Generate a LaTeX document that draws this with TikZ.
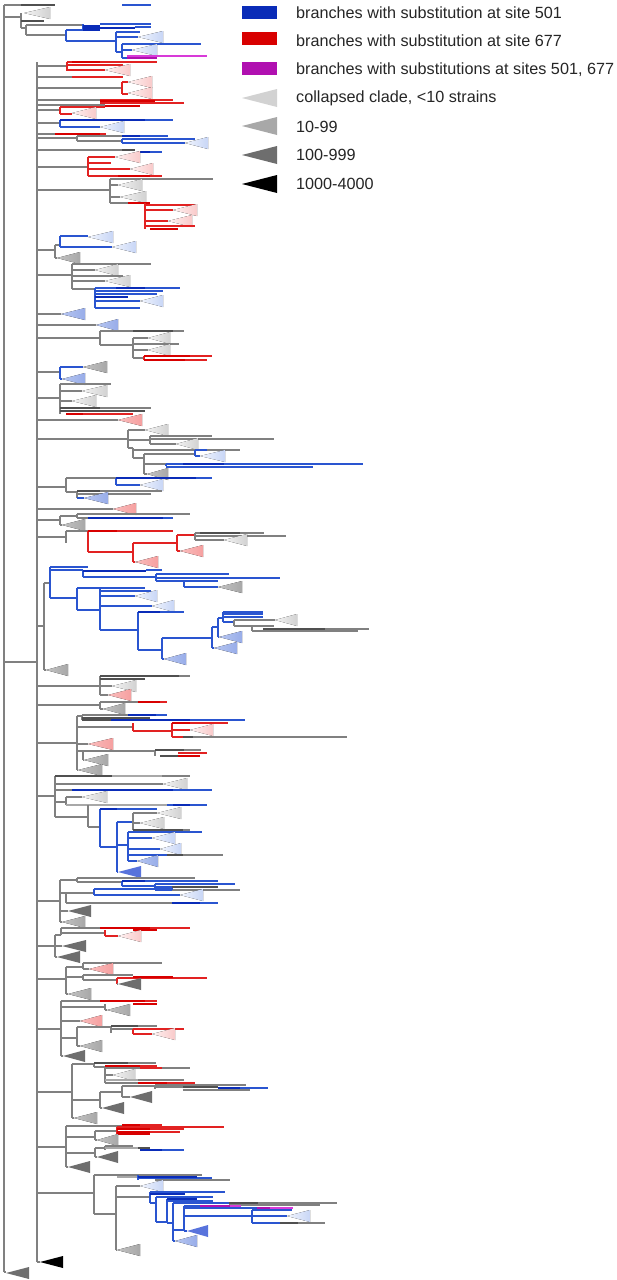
\documentclass[tikz,border=0pt]{standalone}
\usepackage{fontspec}
\setmainfont{Liberation Sans}
\definecolor{treegray}{HTML}{808080}
\definecolor{bundlegray}{HTML}{505050}
\definecolor{palegray}{HTML}{A8A8A8}
\definecolor{subblue}{HTML}{2A55D0}
\definecolor{subbluek}{HTML}{0A2CB8}
\definecolor{subred}{HTML}{E22222}
\definecolor{subredk}{HTML}{D80000}
\definecolor{submag}{HTML}{D83AD8}
\definecolor{submagk}{HTML}{B010B0}
\definecolor{triA}{HTML}{D2D2D2}
\definecolor{triB}{HTML}{A8A8A8}
\definecolor{triC}{HTML}{6E6E6E}
\definecolor{triBlueA}{HTML}{C8D6F6}
\definecolor{triBlueB}{HTML}{98ADE9}
\definecolor{triBlueC}{HTML}{5873DC}
\definecolor{triRedA}{HTML}{F9CACA}
\definecolor{triRedB}{HTML}{F6A0A0}
\newcommand{\hb}[4][gbr]{\draw[#1] (#3,#2) -- (#4,#2);}
\newcommand{\vb}[4][gbr]{\draw[#1] (#2,#3) -- (#2,#4);}
\newcommand{\clade}[4][cl0]{\fill[#1] (#2,#3) -- ++(#4,-6) -- ++(0,12) -- cycle;}
\begin{document}
\begin{tikzpicture}[x=1pt, y=-1pt,
  gbr/.style={draw=treegray, line width=1.1pt},
  gth/.style={draw=bundlegray, line width=2.6pt},
  lth/.style={draw=palegray, line width=2.6pt},
  bbr/.style={draw=subblue, line width=1.1pt},
  bth/.style={draw=subbluek, line width=2.6pt},
  rbr/.style={draw=subred, line width=1.1pt},
  rth/.style={draw=subredk, line width=2.6pt},
  mbr/.style={draw=submag, line width=1.1pt},
  mth/.style={draw=submagk, line width=2.6pt},
  cl0/.style={left color=triA!25!white, right color=triA},
  cl1/.style={left color=triB!70!white, right color=triB},
  cl2/.style={fill=triC}, cl3/.style={fill=black},
  cb0/.style={left color=triBlueA!25!white, right color=triBlueA},
  cb1/.style={left color=triBlueB!70!white, right color=triBlueB},
  cb2/.style={fill=triBlueC},
  cr0/.style={left color=triRedA!25!white, right color=triRedA},
  cr1/.style={left color=triRedB!70!white, right color=triRedB},
  legtext/.style={anchor=west, inner sep=0pt, text=black!85, font=\fontsize{16.2}{19}\selectfont}]
\useasboundingbox (0,0) rectangle (617,1280);
\fill[white] (0,0) rectangle (617,1280);

\fill[subbluek] (242,6) rectangle (277,19);
\fill[subredk] (242,32) rectangle (277,45);
\fill[submagk] (242,62) rectangle (277,75);
\fill[triA] (242,98) -- (277,89) -- (277,107) -- cycle;
\fill[triB] (242,126) -- (277,117) -- (277,135) -- cycle;
\fill[triC] (242,155) -- (277,146) -- (277,164) -- cycle;
\fill[black] (242,184) -- (277,175) -- (277,193) -- cycle;
\node[legtext] (leg501) at (296,13) {branches with substitution at site 501};
\node[legtext] (leg677) at (296,41) {branches with substitution at site 677};
\node[legtext] (legboth) at (296,70) {branches with substitutions at sites 501, 677};
\node[legtext] (legsmall) at (296,98) {collapsed clade, <10 strains};
\node[legtext] (legten) at (296,127) {10-99};
\node[legtext] (leghund) at (296,155) {100-999};
\node[legtext] (legthou) at (296,184) {1000-4000};

\vb{4}{5}{1272}
\hb{5}{4}{21} \hb[gth]{5}{21}{55} \hb[bbr]{5}{122}{151}
\hb{17}{4}{21} \vb{21}{13}{28}
\clade{24}{13}{26}
\hb[gth]{21}{21}{44}
\hb{28}{21}{26} \vb{26}{25}{35}
\hb{25}{26}{83} \vb[bbr]{83}{24}{30}
\hb[bth]{26}{83}{100} \hb[bth]{28}{83}{135} \hb[bth]{30}{83}{100}
\hb[bbr]{24}{100}{151} \hb[bbr]{27}{135}{151}
\hb{35}{26}{66} \vb[bbr]{66}{30}{41}
\hb[bbr]{30}{66}{83}
\hb[bbr]{41}{66}{116} \vb[bbr]{116}{32}{52}
\hb[bbr]{32}{116}{140} \hb[bbr]{37}{116}{138} \clade[cb0]{138}{37}{25}
\hb[bbr]{52}{116}{122} \vb[bbr]{122}{44}{58}
\hb[bbr]{44}{122}{201}
\hb[bbr]{50}{122}{132} \clade[cb0]{132}{50}{25}
\hb[bbr]{58}{122}{127} \hb[mbr]{56}{127}{207} \hb[mth]{58}{127}{157}

\hb{662}{4}{37}
\vb{37}{62}{1262}

\hb{66}{37}{67} \vb[rbr]{67}{62}{71}
\hb[rbr]{62}{67}{157} \hb[rth]{62}{72}{100}
\hb[rbr]{65}{67}{123}
\hb[rbr]{70}{67}{105} \clade[cr0]{105}{70}{25}
\hb{77}{37}{72} \hb[rbr]{77}{72}{123}

\hb{88}{37}{122} \vb[rbr]{122}{82}{94}
\hb[rbr]{82}{122}{128} \clade[cr0]{128}{82}{24}
\hb[rbr]{94}{122}{128} \clade[cr0]{128}{93}{24}

\hb{100}{37}{100} \hb[rbr]{100}{100}{173} \hb[rth]{101}{100}{155} \hb[rbr]{103}{100}{184}
\hb{105}{37}{105} \hb[rth]{106}{105}{140}
\hb{110}{37}{60} \vb[rbr]{60}{107}{114}
\hb[rbr]{107}{60}{105}
\hb[rbr]{114}{60}{72} \clade[cr0]{72}{113}{24}

\hb{123}{37}{60} \vb[bbr]{60}{120}{127}
\hb[bbr]{120}{60}{173} \hb[bth]{120}{60}{145}
\hb[bbr]{127}{60}{100} \clade[cb0]{100}{127}{24}

\hb{134}{37}{55} \hb[rth]{134}{55}{100} \hb[rbr]{134}{100}{106}
\hb{138}{37}{77} \vb{77}{136}{141}
\hb{136}{77}{122} \hb[bth]{136}{122}{140} \hb[bbr]{136}{140}{168}
\hb{141}{77}{122} \vb[bbr]{122}{139}{143}
\hb[bbr]{139}{122}{195}
\hb[bbr]{143}{122}{185} \clade[cb0]{185}{143}{23}

\hb{150}{37}{122} \hb[gth]{150}{122}{135} \hb[bth]{152}{138}{150} \hb[bbr]{152}{150}{162}

\hb{167}{37}{88} \vb[rbr]{88}{157}{176}
\hb[rbr]{157}{88}{115} \clade[cr0]{115}{157}{25}
\hb[rbr]{163}{88}{111}
\hb[rbr]{169}{88}{130} \clade[cr0]{130}{169}{23}
\hb[rbr]{176}{88}{162} \hb[rth]{176}{118}{150}

\hb{190}{37}{110} \vb{110}{179}{203}
\hb{179}{110}{213}
\hb{185}{110}{118} \clade{118}{185}{24}
\hb{197}{110}{120} \clade{120}{197}{26}
\hb{203}{110}{128} \hb[rth]{203}{128}{150}
\vb[rbr]{145}{203}{229}
\hb[rbr]{205}{145}{195}
\hb[rbr]{210}{145}{173} \clade[cr0]{173}{210}{24}
\hb[rbr]{221}{145}{168} \clade[cr0]{168}{221}{24}
\hb[rbr]{226}{145}{195}
\hb[rth]{229}{150}{178}

\hb{250}{37}{55} \vb{55}{245}{258}
\hb{245}{55}{60} \vb[bbr]{60}{236}{247}
\hb[bbr]{236}{60}{88} \clade[cb0]{88}{237}{25}
\hb[bbr]{247}{60}{112} \clade[cb0]{112}{247}{24}
\hb{258}{55}{57} \clade[cl1]{57}{258}{23}

\hb{275}{37}{72} \vb{72}{264}{289}
\hb{264}{72}{151}
\hb{270}{72}{95} \clade{95}{270}{23}
\hb{276}{72}{123}
\hb{281}{72}{105} \clade{105}{281}{25}
\hb{289}{72}{95} \vb[bbr]{95}{288}{308}
\hb[bbr]{288}{95}{180} \hb[bth]{288}{116}{145}
\hb[bbr]{291}{95}{163}
\hb[bbr]{294}{95}{157}
\hb[bth]{297}{95}{128}
\hb[bbr]{301}{95}{140} \clade[cb0]{140}{301}{23}
\hb[bbr]{308}{95}{140}

\hb{314}{37}{61} \clade[cb1]{61}{314}{24}
\hb{325}{37}{96} \clade[cb1]{96}{325}{22}

\hb{338}{37}{100} \vb{100}{331}{345}
\hb{331}{100}{184} \hb[gth]{331}{133}{173}
\hb{345}{100}{133} \vb{133}{338}{358}
\hb{338}{133}{148} \clade{148}{338}{22}
\hb{344}{133}{179}
\hb{350}{133}{148} \clade{148}{350}{22}
\hb{358}{133}{144} \vb[rbr]{144}{356}{360}
\hb[rbr]{356}{144}{212} \hb[rth]{356}{144}{190}
\hb[rbr]{360}{144}{207} \hb[rth]{360}{144}{185}

\hb{372}{37}{60} \vb[bbr]{60}{367}{379}
\hb[bbr]{367}{60}{83} \clade[cl1]{83}{367}{24}
\hb[bbr]{379}{60}{62} \clade[cb1]{62}{379}{23}

\hb{398}{37}{60} \vb{60}{384}{414}
\hb{384}{60}{111}
\hb{391}{60}{82} \clade{82}{391}{25}
\hb{401}{60}{72} \clade{72}{401}{24}
\hb[gth]{408}{60}{100} \hb{408}{100}{151}
\hb[gth]{411}{60}{145}
\hb[rth]{414}{66}{83} \hb[rbr]{414}{83}{133}

\hb{420}{37}{118} \clade[cr1]{118}{420}{24}

\hb{439}{37}{128} \vb{128}{430}{448}
\hb{430}{128}{145} \clade{145}{430}{23}
\hb{440}{128}{150} \vb{150}{436}{444}
\hb{436}{150}{212}
\hb{439}{150}{274}
\hb{444}{150}{176} \clade{176}{444}{22}
\hb{448}{128}{133} \vb{133}{448}{458}
\hb{450}{133}{240}
\hb{458}{133}{144} \vb{144}{454}{474}
\hb{454}{144}{195} \vb[bbr]{195}{450}{456}
\hb[bbr]{450}{195}{207}
\hb[bbr]{456}{195}{200} \clade[cb0]{200}{456}{25}
\hb{464}{144}{166} \vb[bbr]{166}{464}{466}
\hb[bbr]{464}{166}{363} \hb[bth]{464}{183}{224}
\hb[bbr]{467}{166}{313}
\hb{474}{144}{147} \clade[cl1]{147}{474}{21}

\hb{487}{37}{66} \vb{66}{478}{492}
\hb{478}{66}{116} \vb[bbr]{116}{478}{485}
\hb[bth]{478}{116}{196} \hb[bbr]{478}{196}{212}
\hb[bbr]{485}{116}{140} \clade[cb0]{140}{485}{23}
\hb{492}{66}{77} \vb{77}{491}{498}
\hb[gth]{491}{77}{100} \hb{491}{100}{162}
\hb{494}{77}{151}
\hb[bbr]{498}{77}{84} \clade[cb1]{84}{498}{24}

\hb{509}{37}{113} \clade[cr1]{113}{509}{23}

\hb{520}{37}{60} \vb{60}{516}{525}
\hb{516}{60}{77} \vb{77}{514}{518}
\hb{514}{77}{190}
\hb{518}{77}{88} \hb[bth]{518}{88}{163} \hb[bbr]{518}{163}{173}
\hb{525}{60}{62} \clade[cl1]{62}{525}{23}

\hb{537}{37}{66} \vb{66}{531}{543}
\hb{531}{66}{88} \vb[rbr]{88}{531}{552}
\hb[rth]{531}{88}{117} \hb[rbr]{531}{117}{173}
\hb[rbr]{552}{88}{133} \vb[rbr]{133}{543}{562}
\hb[rbr]{543}{133}{177} \vb[rbr]{177}{535}{551}
\hb[rbr]{535}{177}{195} \vb{195}{533}{540}
\hb{533}{195}{264} \hb[gth]{533}{200}{240}
\hb{536}{195}{286}
\hb{540}{195}{224} \clade{224}{540}{23}
\hb[rbr]{551}{177}{180} \clade[cr1]{180}{551}{23}
\hb[rbr]{562}{133}{135} \clade[cr1]{135}{562}{23}

\hb{626}{37}{44} \vb{44}{583}{670}
\hb{583}{44}{50} \vb[bbr]{50}{567}{598}
\hb[bbr]{567}{50}{88}
\hb[bbr]{570}{50}{83} \vb[bbr]{83}{570}{577}
\hb[bth]{571}{83}{146} \hb[bbr]{570}{146}{162}
\hb[bbr]{577}{83}{156} \vb[bbr]{156}{574}{581}
\hb[bbr]{574}{156}{229}
\hb[bbr]{578}{156}{280}
\hb[bbr]{581}{156}{184} \vb[bbr]{184}{581}{587}
\hb[bbr]{581}{184}{218}
\hb[bbr]{587}{184}{218} \clade[cl1]{218}{587}{24}
\hb[bbr]{598}{50}{77} \vb[bbr]{77}{588}{610}
\hb[bbr]{588}{77}{145} \vb[bbr]{100}{588}{630}
\hb[bbr]{591}{100}{151}
\hb[bbr]{596}{100}{135} \clade[cb0]{135}{596}{22}
\hb[bbr]{606}{100}{152} \clade[cb0]{152}{606}{22}
\hb[bbr]{610}{77}{100}
\hb[bbr]{630}{100}{138} \vb[bbr]{138}{612}{650}
\hb[bbr]{612}{138}{184} \hb[bth]{612}{138}{160}
\hb[bbr]{650}{138}{162} \vb[bbr]{162}{638}{659}
\hb[bbr]{638}{162}{212} \vb[bbr]{212}{627}{648}
\hb[bbr]{627}{212}{218} \vb[bbr]{218}{618}{637}
\hb[bbr]{618}{218}{223} \vb[bbr]{223}{612}{622}
\hb[bbr]{612}{223}{263}
\hb[bbr]{614}{223}{263}
\hb[bbr]{617}{223}{263}
\hb[bbr]{622}{223}{234} \vb{234}{620}{626}
\hb{620}{234}{275} \clade{275}{620}{22}
\hb{626}{234}{252} \vb{252}{626}{631}
\hb{626}{252}{274}
\hb[gth]{629}{263}{325} \hb{629}{325}{369}
\hb{631}{252}{358}
\hb[bbr]{637}{218}{219} \clade[cb1]{219}{637}{23}
\hb[bbr]{648}{212}{214} \clade[cb1]{214}{648}{23}
\hb[bbr]{659}{162}{164} \clade[cb1]{164}{659}{22}
\hb{670}{44}{46} \clade[cl1]{46}{670}{22}

\hb{686}{37}{100} \vb{100}{676}{695}
\hb[gth]{676}{100}{179} \hb{676}{179}{190}
\hb[gth]{679}{100}{145}
\hb{686}{100}{112} \clade{112}{686}{24}
\hb{695}{100}{108} \clade[cr1]{108}{695}{23}

\hb{705}{37}{100} \vb{100}{702}{709}
\hb{702}{100}{138} \hb[rbr]{702}{138}{167} \hb[rth]{702}{138}{160}
\hb{709}{100}{103} \clade[cl1]{103}{709}{22}

\hb{743}{37}{77} \vb{77}{716}{770}
\hb{716}{77}{82} \vb{82}{715}{720}
\hb{715}{82}{128} \hb[bth]{715}{128}{156} \hb[bbr]{715}{156}{167}
\hb[gth]{718}{82}{150}
\hb[gth]{720}{82}{111} \hb[bbr]{720}{111}{245} \hb[bth]{720}{111}{190}
\hb{727}{77}{133} \vb[rbr]{133}{723}{731}
\hb[rbr]{731}{133}{172} \vb[rbr]{172}{723}{737}
\hb[rbr]{723}{172}{228} \hb[rth]{723}{172}{190}
\hb[rbr]{730}{172}{190} \clade[cr0]{190}{730}{23}
\hb[rbr]{737}{172}{183} \hb[gth]{737}{183}{193} \hb{737}{193}{347}
\hb{744}{77}{88} \clade[cr1]{88}{744}{25}
\hb{751}{77}{83} \vb{83}{751}{760}
\hb{751}{83}{155} \vb{155}{750}{756}
\hb[gth]{750}{155}{184} \hb{750}{184}{201}
\hb[rbr]{753}{178}{207}
\hb[gth]{756}{160}{178} \hb[rth]{756}{178}{200}
\hb{760}{83}{84} \clade[cl1]{84}{760}{24}
\hb{770}{77}{78} \clade[cl1]{78}{770}{24}

\hb{796}{37}{55} \vb{55}{776}{817}
\hb{776}{55}{190} \hb[gth]{776}{55}{112} \hb[lth]{776}{112}{162}
\hb{784}{55}{163} \clade{163}{784}{24}
\hb{790}{55}{72} \hb[bbr]{790}{72}{212} \hb[bth]{790}{72}{173}
\hb{802}{55}{66} \vb{66}{797}{805}
\hb{797}{66}{82} \clade{82}{797}{25}
\hb[lth]{805}{66}{167} \hb[bbr]{805}{167}{207} \hb[bth]{805}{173}{190}
\hb{817}{55}{88} \vb{88}{805}{827}
\hb{827}{88}{100} \vb[bbr]{100}{809}{847}
\hb[bbr]{809}{100}{157} \hb[bth]{809}{100}{117}
\hb[bbr]{847}{100}{117} \vb[bbr]{117}{822}{872}
\hb[bbr]{822}{117}{133} \vb{133}{813}{830}
\hb{813}{133}{157} \clade{157}{813}{24}
\hb{823}{133}{140} \clade{140}{823}{24}
\hb[gth]{830}{133}{183} \hb{830}{183}{190}
\hb[bbr]{845}{117}{128} \vb[bbr]{128}{832}{861}
\hb[bbr]{832}{128}{202}
\hb[bbr]{838}{128}{152} \clade[cb0]{152}{838}{23}
\hb[bbr]{849}{128}{160} \clade[cb0]{160}{849}{21}
\hb[bbr]{855}{128}{167} \hb[gth]{855}{167}{183} \hb{855}{183}{223}
\hb[bbr]{861}{128}{137} \clade[cb1]{137}{861}{21}
\hb[bbr]{872}{117}{118} \clade[cb2]{118}{872}{23}

\hb{901}{37}{60} \vb{60}{880}{922}
\hb{880}{60}{77} \vb{77}{878}{882}
\hb{878}{77}{195}
\hb{882}{77}{122} \vb[bbr]{122}{881}{886}
\hb[bbr]{881}{122}{218} \hb[bth]{881}{122}{145}
\hb[bbr]{886}{122}{155} \vb[bbr]{155}{884}{890}
\hb[bbr]{884}{155}{235}
\hb[bbr]{887}{155}{172} \hb[gth]{887}{172}{218}
\hb[bbr]{890}{155}{172} \hb{890}{172}{240}
\hb{893}{60}{66} \vb{66}{893}{903}
\hb{893}{66}{94} \vb[bbr]{94}{889}{895}
\hb[bbr]{889}{94}{173}
\hb[bbr]{895}{94}{180} \clade[cb0]{180}{895}{23}
\hb{903}{66}{172} \hb[bbr]{903}{172}{218} \hb[bth]{903}{172}{200}
\hb{911}{60}{68} \clade[cl2]{68}{911}{23}
\hb{922}{60}{62} \clade[cl1]{62}{922}{23}

\hb{946}{37}{55} \vb{55}{935}{957}
\hb{935}{55}{61} \vb{61}{928}{935}
\hb{928}{61}{100} \hb[rbr]{928}{100}{190} \hb[rth]{928}{100}{150}
\hb{933}{61}{105} \vb[rbr]{105}{930}{936}
\hb[rth]{930}{133}{157}
\hb[rbr]{936}{105}{118} \clade[cr0]{118}{936}{23}
\hb{946}{55}{62} \clade[cl2]{62}{946}{24}
\hb{957}{55}{57} \clade[cl2]{57}{957}{23}

\hb{979}{37}{66} \vb{66}{967}{994}
\hb{967}{66}{83} \vb{83}{963}{969}
\hb{963}{83}{162}
\hb{969}{83}{89} \clade[cr1]{89}{969}{24}
\hb{977}{66}{83} \vb{83}{975}{980}
\hb{975}{83}{133}
\hb{980}{83}{117} \vb[rbr]{117}{978}{984}
\hb[rbr]{978}{117}{207} \hb[rth]{977}{133}{173}
\hb{984}{117}{118} \clade[cl2]{118}{984}{23}
\hb{994}{66}{68} \clade[cl1]{68}{994}{23}

\hb{1029}{37}{61} \vb{61}{1001}{1056}
\hb{1001}{61}{100} \hb[rbr]{1001}{100}{157} \hb[rth]{1001}{100}{145}
\hb[rth]{1004}{133}{157}
\hb{1007}{61}{105} \vb{105}{1004}{1010}
\hb{1010}{105}{107} \clade[cl1]{107}{1010}{23}
\hb{1021}{61}{80} \clade[cr1]{80}{1021}{22}
\hb{1038}{61}{77} \vb{77}{1027}{1046}
\hb{1027}{77}{111} \vb{111}{1026}{1033}
\hb[gth]{1026}{111}{138} \hb{1026}{138}{157}
\hb{1029}{111}{133} \hb[rbr]{1029}{133}{184} \vb[rbr]{133}{1029}{1034}
\hb[rbr]{1034}{133}{152} \clade[cr0]{152}{1034}{23}
\hb{1046}{77}{80} \clade[cl1]{80}{1046}{22}
\hb{1056}{61}{63} \clade[cl2]{63}{1056}{22}

\hb{1092}{37}{72} \vb{72}{1064}{1118}
\hb{1064}{72}{94} \vb{94}{1063}{1067}
\hb[gth]{1063}{94}{128} \hb{1063}{128}{156}
\hb{1067}{94}{105} \vb{105}{1066}{1083}
\hb{1068}{105}{190} \hb[rth]{1066}{105}{140} \hb[rbr]{1066}{140}{157} \hb[rbr]{1068}{140}{162}
\hb{1075}{105}{113} \clade{113}{1075}{22}
\hb{1080}{105}{184} \hb[lth]{1080}{105}{138}
\hb{1083}{105}{138} \hb[rbr]{1083}{138}{195} \hb[rth]{1083}{138}{167}
\hb{1100}{72}{100} \vb{100}{1092}{1108}
\hb{1092}{100}{122} \vb{122}{1086}{1097}
\hb{1086}{122}{155} \vb{155}{1085}{1089}
\hb{1085}{155}{246}
\hb{1087}{155}{183} \hb[gth]{1087}{183}{218} \hb[bbr]{1088}{218}{268} \hb[bth]{1088}{218}{240}
\hb{1090}{183}{250}
\hb{1097}{122}{130} \clade[cl2]{130}{1097}{22}
\hb{1108}{100}{102} \clade[cl2]{102}{1108}{22}
\hb{1118}{72}{74} \clade[cl1]{74}{1118}{23}

\hb{1147}{37}{66} \vb{66}{1126}{1167}
\hb{1126}{66}{122} \hb[rbr]{1125}{122}{162} \hb[rth]{1125}{122}{140}
\hb{1137}{66}{95} \vb{95}{1131}{1140}
\hb{1131}{95}{117} \vb[rbr]{117}{1127}{1134}
\hb[rbr]{1127}{117}{224}
\hb[rbr]{1129}{117}{184} \hb[rth]{1129}{117}{150}
\hb[rbr]{1132}{117}{180} \hb[rth]{1132}{117}{150}
\hb[rth]{1134}{117}{150}
\hb{1140}{95}{97} \clade[cl1]{97}{1140}{21}
\hb{1153}{66}{95} \vb{95}{1148}{1157}
\hb{1148}{95}{105} \vb{105}{1146}{1150}
\hb{1146}{105}{133}
\hb[lth]{1148}{105}{138} \hb[gth]{1148}{138}{150}
\hb[bbr]{1150}{140}{184} \hb[bth]{1150}{140}{162}
\hb{1157}{95}{97} \clade[cl2]{97}{1157}{21}
\hb{1167}{66}{68} \clade[cl2]{68}{1167}{22}

\hb{1193}{37}{94} \vb{94}{1175}{1214}
\hb{1175}{94}{202} \hb[lth]{1177}{117}{138} \vb[bbr]{138}{1175}{1180}
\hb[bbr]{1178}{138}{212} \hb[bth]{1177}{138}{197}
\hb{1180}{155}{230}
\hb{1214}{94}{116} \vb{116}{1186}{1250}
\hb{1186}{116}{140} \clade[cb0]{140}{1186}{23}
\hb{1197}{116}{150} \vb[bbr]{150}{1192}{1203}
\hb[bbr]{1192}{150}{225}
\hb[bth]{1194}{150}{185}
\hb[bbr]{1203}{150}{156} \vb[bbr]{156}{1197}{1222}
\hb[bbr]{1197}{156}{213}
\hb[bbr]{1222}{156}{167} \vb[bbr]{167}{1199}{1223}
\hb[bth]{1199}{167}{197}
\hb[bbr]{1201}{167}{213}
\hb[bbr]{1223}{167}{173} \vb[bbr]{173}{1203}{1241}
\hb[bbr]{1203}{173}{229} \hb[gth]{1203}{229}{258} \hb{1203}{258}{337}
\hb{1205}{229}{320}
\hb[bbr]{1230}{173}{184} \vb[bbr]{184}{1206}{1231}
\hb[bbr]{1206}{184}{200} \hb[mbr]{1206}{200}{241} \hb[mth]{1206}{200}{230}
\hb[bbr]{1208}{184}{257} \hb[mbr]{1208}{257}{293} \hb[mth]{1208}{257}{270}
\hb[bbr]{1216}{184}{252} \vb[bbr]{252}{1210}{1223}
\hb[bbr]{1210}{252}{292}
\hb[bbr]{1216}{252}{287} \clade[cb0]{287}{1216}{23}
\hb[bbr]{1223}{252}{280} \hb[gth]{1223}{280}{298} \hb{1223}{298}{325}
\hb[bbr]{1231}{184}{187} \clade[cb2]{187}{1231}{21}
\hb[bbr]{1241}{173}{175} \clade[cb1]{175}{1241}{22}
\hb{1250}{116}{117} \clade[cl1]{117}{1250}{23}

\hb{1262}{37}{40} \clade[cl3]{40}{1262}{23}
\hb{1272}{4}{6} \clade[cl2]{6}{1273}{23}
\end{tikzpicture}
\end{document}
